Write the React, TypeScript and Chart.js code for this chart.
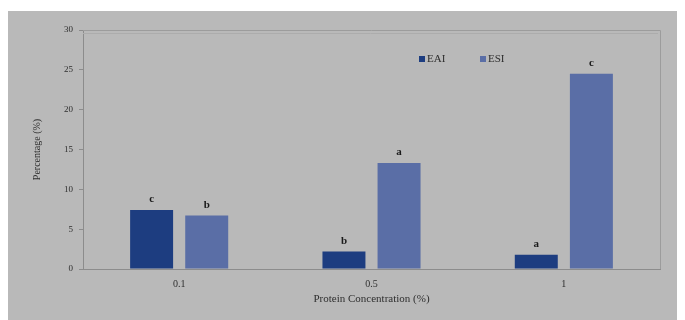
import React, { useEffect, useRef } from "react";
import { Chart, registerables } from "chart.js";

Chart.register(...registerables);

const categories = ["0.1", "0.5", "1"];
const eaiValues = [7.4, 2.2, 1.8];
const esiValues = [6.7, 13.3, 24.5];
const eaiLetters = ["c", "b", "a"];
const esiLetters = ["b", "a", "c"];
const yTicks = [0, 5, 10, 15, 20, 25, 30];

const FONT = "'Liberation Serif', 'Times New Roman', serif";
const TEXT = "#2e2e2e";

const letterPlugin = {
  id: "barLetters",
  afterDatasetsDraw(chart: any) {
    const { ctx } = chart;
    const letters = [eaiLetters, esiLetters];
    ctx.save();
    ctx.font = `bold 11px ${FONT}`;
    ctx.fillStyle = "#1a1a1a";
    ctx.textAlign = "center";
    ctx.textBaseline = "bottom";
    chart.data.datasets.forEach((_: any, di: number) => {
      const meta = chart.getDatasetMeta(di);
      meta.data.forEach((bar: any, i: number) => {
        ctx.fillText(letters[di][i], bar.x, bar.y - 5);
      });
    });
    ctx.restore();
  },
};

const framePlugin = {
  id: "plotFrame",
  afterDraw(chart: any) {
    const { ctx, chartArea: a } = chart;
    ctx.save();
    ctx.strokeStyle = "#9c9c9c";
    ctx.lineWidth = 1;
    ctx.beginPath();
    ctx.moveTo(a.left, a.top + 0.5);
    ctx.lineTo(a.right + 0.5, a.top + 0.5);
    ctx.lineTo(a.right + 0.5, a.bottom);
    ctx.stroke();
    ctx.strokeStyle = "#acacac";
    ctx.beginPath();
    ctx.moveTo(a.left, a.top + 3.5);
    ctx.lineTo(a.right - 2, a.top + 3.5);
    ctx.stroke();
    ctx.restore();
  },
};

const legendPlugin = {
  id: "insideLegend",
  afterDraw(chart: any) {
    const { ctx } = chart;
    const positions = [411, 472];
    const y = 48;
    ctx.save();
    ctx.font = `11px ${FONT}`;
    ctx.textBaseline = "middle";
    ctx.textAlign = "left";
    chart.data.datasets.forEach((ds: any, i: number) => {
      const x = positions[i];
      ctx.fillStyle = ds.backgroundColor;
      ctx.fillRect(x, y - 3, 6, 6);
      ctx.fillStyle = TEXT;
      ctx.fillText(ds.label, x + 8, y);
    });
    ctx.restore();
  },
};

export default function App() {
  const ref = useRef<HTMLCanvasElement | null>(null);

  useEffect(() => {
    if (!ref.current) return;
    const chart = new Chart(ref.current, {
      type: "bar",
      data: {
        labels: categories,
        datasets: [
          {
            label: "EAI",
            data: eaiValues,
            backgroundColor: "#1d3d80",
            borderWidth: 0,
          },
          {
            label: "ESI",
            data: esiValues,
            backgroundColor: "#5a6ea6",
            borderWidth: 0,
          },
        ],
      },
      options: {
        animation: false,
        responsive: false,
        maintainAspectRatio: false,
        layout: { padding: { left: 0, right: 25, top: 19, bottom: 0 } },
        plugins: {
          legend: { display: false },
          tooltip: { enabled: false },
        },
        datasets: {
          bar: { categoryPercentage: 0.573, barPercentage: 0.78 },
        },
        scales: {
          x: {
            grid: { display: false, drawOnChartArea: false, drawTicks: false },
            border: { color: "#8c8c8c" },
            ticks: {
              color: TEXT,
              font: { family: FONT, size: 10 },
              padding: 9,
              maxRotation: 0,
            },
            title: {
              display: true,
              text: "Protein Concentration (%)",
              color: TEXT,
              font: { family: FONT, size: 11 },
              padding: { top: 0, bottom: 14 },
            },
            afterFit(scale: any) {
              scale.height = 51;
            },
          },
          y: {
            min: 0,
            max: 30,
            afterBuildTicks(scale: any) {
              scale.ticks = yTicks.map((v) => ({ value: v }));
            },
            grid: {
              drawOnChartArea: false,
              tickLength: 4,
              color: "#8c8c8c",
            },
            border: { color: "#8c8c8c" },
            ticks: {
              color: TEXT,
              font: { family: FONT, size: 9 },
              padding: 6,
            },
            title: {
              display: true,
              text: "Percentage (%)",
              color: TEXT,
              font: { family: FONT, size: 10 },
              padding: { top: 23, bottom: 0 },
            },
            afterFit(scale: any) {
              scale.width = 75;
            },
          },
        },
      },
      plugins: [letterPlugin, framePlugin, legendPlugin],
    });
    return () => chart.destroy();
  }, []);

  return (
    <div
      style={{
        marginTop: 3,
        width: 677,
        height: 309,
        background: "#b9b9b9",
      }}
    >
      <canvas ref={ref} width={677} height={309} style={{ display: "block" }} />
    </div>
  );
}
